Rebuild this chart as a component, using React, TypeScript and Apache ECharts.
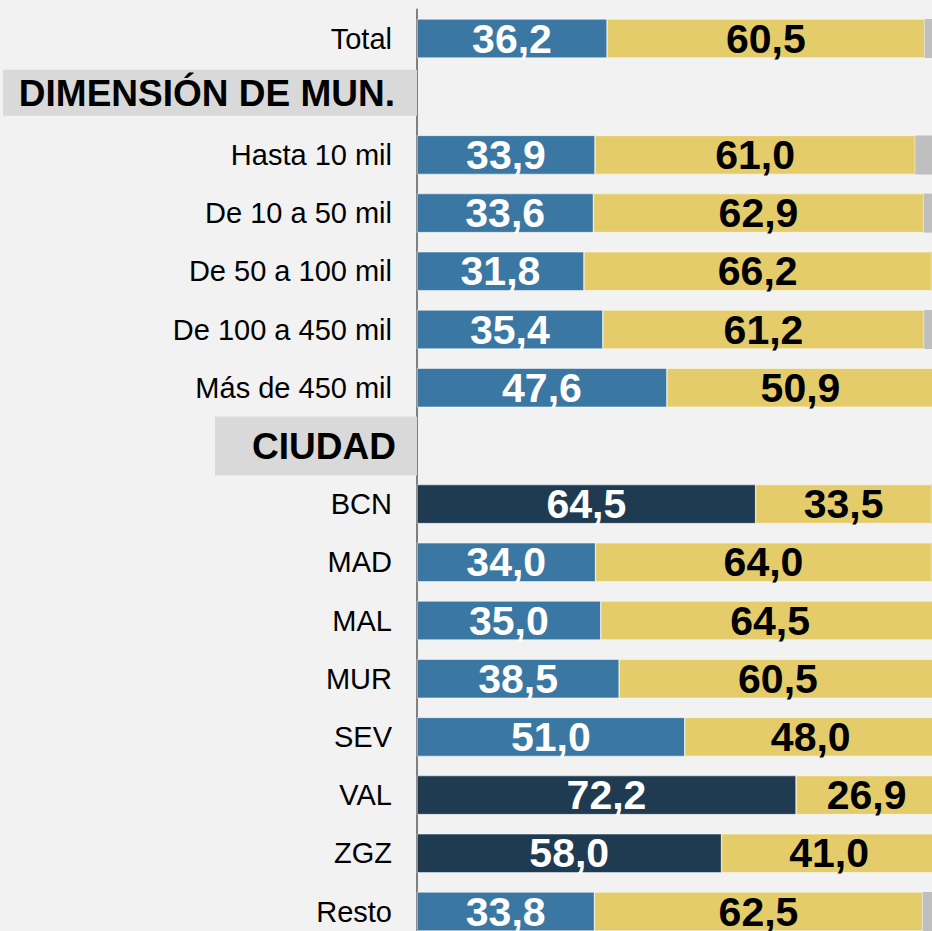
import React, { useEffect, useRef } from "react";
import * as echarts from "echarts";

const categories = [
  "Total",
  "DIMENSIÓN DE MUN.",
  "Hasta 10 mil",
  "De 10 a 50 mil",
  "De 50 a 100 mil",
  "De 100 a 450 mil",
  "Más de 450 mil",
  "CIUDAD",
  "BCN",
  "MAD",
  "MAL",
  "MUR",
  "SEV",
  "VAL",
  "ZGZ",
  "Resto",
];

const headerMain = "DIMENSIÓN DE MUN.";
const headerCity = "CIUDAD";

const blueValues = [36.2, null, 33.9, 33.6, 31.8, 35.4, 47.6, null, 64.5, 34.0, 35.0, 38.5, 51.0, 72.2, 58.0, 33.8];
const yellowValues = [60.5, null, 61.0, 62.9, 66.2, 61.2, 50.9, null, 33.5, 64.0, 64.5, 60.5, 48.0, 26.9, 41.0, 62.5];
const greyValues = [3.3, null, 5.1, 3.5, 2.0, 3.4, 1.5, null, 2.0, 2.0, 0.5, 1.0, 1.0, 0.9, 1.0, 3.7];
const darkCategories = ["BCN", "VAL", "ZGZ"];

const BLUE = "#3a77a3";
const NAVY = "#1f3b52";
const YELLOW = "#e5cc6b";
const GREY = "#bfbfbf";

const fmt = (v: number) => v.toFixed(1).replace(".", ",");

export default function App() {
  const ref = useRef<HTMLDivElement>(null);
  useEffect(() => {
    if (!ref.current) return;
    const chart = echarts.init(ref.current, null, { renderer: "svg" });
    const labelFont = "'Liberation Sans', Arial, sans-serif";
    chart.setOption({
      animation: false,
      backgroundColor: "#f2f2f2",
      textStyle: { fontFamily: labelFont },
      grid: { left: 414, top: 9.4, width: 528, height: 931.2, containLabel: false },
      xAxis: { type: "value", min: 0, max: 100, show: false },
      yAxis: {
        type: "category",
        inverse: true,
        data: categories,
        axisTick: { show: false },
        axisLine: { show: true, lineStyle: { color: "#808080", width: 2 } },
        axisLabel: {
          margin: 0,
          interval: 0,
          fontFamily: labelFont,
          formatter: (v: string) => {
            if (v === headerMain) return `{h1|${v}}\n{sp|}`;
            if (v === headerCity) return `{h2|${v}}`;
            return `{n|${v}}`;
          },
          rich: {
            n: {
              fontSize: 29,
              color: "#000000",
              fontFamily: labelFont,
              padding: [0, 25, 0, 0],
            },
            sp: {
              height: 8,
              lineHeight: 8,
              fontSize: 8,
            },
            h1: {
              fontSize: 37,
              fontWeight: "bold",
              color: "#000000",
              fontFamily: labelFont,
              backgroundColor: "#d9d9d9",
              width: 392,
              align: "right",
              lineHeight: 40,
              padding: [5, 22, 4, 0],
            },
            h2: {
              fontSize: 37,
              fontWeight: "bold",
              color: "#000000",
              fontFamily: labelFont,
              backgroundColor: "#d9d9d9",
              width: 181,
              align: "right",
              lineHeight: 40,
              padding: [12, 21, 10, 0],
            },
          },
        },
      },
      series: [
        {
          name: "blue",
          type: "bar",
          stack: "s",
          barWidth: 39,
          data: blueValues.map((v, i) => ({
            value: v,
            itemStyle: { color: darkCategories.includes(categories[i]) ? NAVY : BLUE },
          })),
          itemStyle: { borderColor: "#ffffff", borderWidth: 0.5 },
          label: {
            show: true,
            position: "inside",
            color: "#ffffff",
            fontWeight: "bold",
            fontSize: 41,
            fontFamily: labelFont,
            formatter: (p: any) => (p.value == null ? "" : fmt(p.value)),
          },
        },
        {
          name: "yellow",
          type: "bar",
          stack: "s",
          barWidth: 39,
          data: yellowValues,
          itemStyle: { color: YELLOW, borderColor: "#ffffff", borderWidth: 0.5 },
          label: {
            show: true,
            position: "inside",
            color: "#000000",
            fontWeight: "bold",
            fontSize: 41,
            fontFamily: labelFont,
            formatter: (p: any) => (p.value == null ? "" : fmt(p.value)),
          },
        },
        {
          name: "grey",
          type: "bar",
          stack: "s",
          barWidth: 39,
          data: greyValues,
          itemStyle: { color: GREY },
          label: { show: false },
        },
      ],
    });
    return () => chart.dispose();
  }, []);
  return (
    <div
      style={{
        position: "fixed",
        left: 0,
        top: 0,
        width: 932,
        height: 931,
        overflow: "hidden",
        background: "#f2f2f2",
      }}
    >
      <div ref={ref} style={{ width: 980, height: 960 }} />
    </div>
  );
}
